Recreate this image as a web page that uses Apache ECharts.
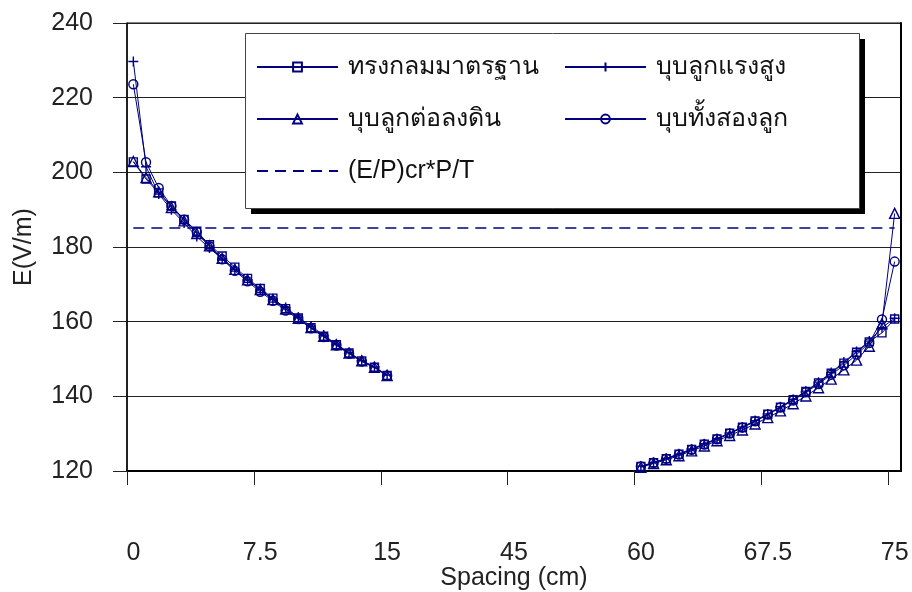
<!DOCTYPE html>
<html>
<head>
<meta charset="utf-8">
<script src="https://cdn.jsdelivr.net/npm/echarts@6/dist/echarts.min.js"></script>
<style>
  html, body { margin: 0; padding: 0; background: #fff; }
  #chart { width: 912px; height: 592px; }
</style>
</head>
<body>
<div id="chart"></div>
<script>
// Spacing categories (cm): measured near range, unlabelled gap slots, far range
const nearSpacing = ['0','0.75','1.5','2.25','3','3.75','4.5','5.25','6','6.75','7.5',
  '8.25','9','9.75','10.5','11.25','12','12.75','13.5','14.25','15'];
const gapSpacing = ['','','','','','','','','','45','','','','','','','','',''];
const farSpacing = ['60','60.75','61.5','62.25','63','63.75','64.5','65.25','66','66.75','67.5',
  '68.25','69','69.75','70.5','71.25','72','72.75','73.5','74.25','75'];
const categories = nearSpacing.concat(gapSpacing, farSpacing);
const labelEvery = 10;

// Electric field E (V/m) for each electrode condition
const seriesNames = ['ทรงกลมมาตรฐาน', 'บุบลูกแรงสูง', 'บุบลูกต่อลงดิน', 'บุบทั้งสองลูก'];
const criticalName = '(E/P)cr*P/T';

const standardNear = [202.8,198.2,194.5,191.0,187.4,184.2,180.6,177.6,174.6,171.6,168.9,
  166.3,163.5,161.0,158.4,156.1,153.8,151.6,149.5,147.8,145.6];
const standardFar = [121.2,122.2,123.3,124.5,125.8,127.2,128.6,130.1,131.7,133.4,135.2,
  137.1,139.1,141.3,143.6,146.2,148.9,151.8,154.6,157.0,160.7];

const hvDentNear = [229.7,201.5,194.2,190.0,186.4,182.8,179.7,176.8,174.0,171.2,168.6,
  166.0,163.8,161.2,158.8,156.4,154.0,151.7,149.6,147.9,145.7];
const hvDentFar = [121.3,122.3,123.4,124.6,125.9,127.3,128.7,130.2,131.8,133.5,135.3,
  137.2,139.2,141.4,143.8,146.4,149.2,152.0,154.8,158.4,160.9];

const groundDentNear = [202.9,198.6,194.8,190.6,187.0,183.6,180.3,177.0,174.0,171.2,168.6,
  165.9,163.4,160.9,158.4,156.1,153.8,151.6,149.5,147.8,145.6];
const groundDentFar = [121.0,122.0,123.0,124.1,125.4,126.7,128.1,129.5,131.0,132.6,134.3,
  136.1,138.0,140.1,142.3,144.6,147.1,149.7,153.4,159.4,189.0];

const bothDentNear = [223.6,202.7,195.8,191.0,187.3,184.0,180.2,176.7,173.6,170.8,168.0,
  165.6,163.0,160.7,158.2,155.9,153.6,151.4,149.3,147.7,145.5];
const bothDentFar = [121.2,122.2,123.3,124.4,125.7,127.1,128.5,130.0,131.6,133.3,135.1,
  137.0,138.9,141.1,143.3,145.8,148.3,151.2,154.3,160.6,176.1];

const criticalField = 185.1;
const criticalSpan = ['0', '75'];

const yTicks = { min: 120, max: 240, step: 20 };

// ---------------------------------------------------------------------------
const navy = '#000080';
const fontFamily = '"Liberation Sans", Arial, "Noto Sans", "DejaVu Sans", sans-serif';
const fontSize = 25;

function pairs(labels, values) {
  return labels.map((lab, i) => [categories.indexOf(lab), values[i]]);
}

const plusPath = 'path://M5,0L5,10M0,5L10,5';
const markers = [
  { symbol: 'rect', size: 8 },
  { symbol: plusPath, size: 10 },
  { symbol: 'triangle', size: 10 },
  { symbol: 'circle', size: 9 }
];
const nearData = [standardNear, hvDentNear, groundDentNear, bothDentNear];
const farData = [standardFar, hvDentFar, groundDentFar, bothDentFar];

const series = [];
seriesNames.forEach((name, k) => {
  [pairs(nearSpacing, nearData[k]), pairs(farSpacing, farData[k])].forEach(data => {
    series.push({
      type: 'line',
      name: name,
      data: data,
      symbol: markers[k].symbol,
      symbolSize: markers[k].size,
      showAllSymbol: true,
      animation: false,
      lineStyle: { color: navy, width: 1 },
      itemStyle: { color: 'rgba(0,0,0,0)', borderColor: navy, borderWidth: 1.4 },
      emphasis: { disabled: true },
      z: 3 + k
    });
  });
});
series.push({
  type: 'line',
  name: criticalName,
  data: criticalSpan.map(lab => [categories.indexOf(lab), criticalField]),
  symbol: 'circle',
  showSymbol: false,
  animation: false,
  lineStyle: { color: navy, width: 1.4, type: [11, 7] },
  itemStyle: { color: navy, opacity: 0 },
  emphasis: { disabled: true },
  z: 2
});

const tickValues = [];
const labelValues = [];
for (let i = 0; i < categories.length; i += labelEvery) {
  labelValues.push(i);
  tickValues.push(i - 0.5);
}

function legendAt(name, left, centerY) {
  return {
    data: [name],
    left: left,
    top: centerY - 15,
    padding: 0,
    itemWidth: 81,
    itemHeight: 11,
    selectedMode: false,
    z: 10,
    textStyle: {
      fontFamily: fontFamily, fontSize: fontSize, color: '#111',
      lineHeight: 30, padding: [0, 0, 0, 5]
    }
  };
}

const chart = echarts.init(document.getElementById('chart'), null, { renderer: 'canvas' });
chart.setOption({
  backgroundColor: '#fff',
  animation: false,
  grid: {
    left: 127, right: 11, top: 23, bottom: 121,
    containLabel: false,
    outerBoundsMode: 'none',
    show: true, borderColor: '#000', borderWidth: 1
  },
  legend: [
    legendAt(seriesNames[0], 256, 67),
    legendAt(seriesNames[1], 564, 67),
    legendAt(seriesNames[2], 256, 119),
    legendAt(seriesNames[3], 564, 119),
    legendAt(criticalName, 256, 171)
  ],
  graphic: [
    { type: 'rect', z: 5, shape: { x: 251, y: 39, width: 614, height: 175 },
      style: { fill: '#000' } },
    { type: 'rect', z: 6, shape: { x: 245.5, y: 33.5, width: 614, height: 175 },
      style: { fill: '#fff', stroke: '#444', lineWidth: 1 } }
  ],
  xAxis: {
    type: 'value',
    min: -0.5,
    max: categories.length - 0.5,
    name: 'Spacing (cm)',
    nameLocation: 'middle',
    nameGap: 95,
    nameMoveOverlap: false,
    nameTextStyle: { fontFamily: fontFamily, fontSize: fontSize, color: '#222' },
    axisLine: { show: true, onZero: false, lineStyle: { color: '#000', width: 2 } },
    axisTick: { show: true, length: 14, customValues: tickValues, lineStyle: { color: '#222', width: 1 } },
    axisLabel: {
      customValues: labelValues,
      formatter: v => categories[Math.round(v)],
      margin: 70,
      fontFamily: fontFamily, fontSize: fontSize, color: '#222'
    },
    splitLine: { show: false }
  },
  yAxis: [{
    type: 'value',
    min: yTicks.min, max: yTicks.max, interval: yTicks.step,
    name: 'E(V/m)',
    nameLocation: 'middle',
    nameGap: 90,
    nameTextStyle: { fontFamily: fontFamily, fontSize: fontSize, color: '#222' },
    axisLine: { show: true, onZero: false, lineStyle: { color: '#000', width: 1.5 } },
    axisTick: { show: true, length: 14, lineStyle: { color: '#222', width: 1 } },
    axisLabel: { margin: 34, fontFamily: fontFamily, fontSize: fontSize, color: '#222' },
    splitLine: { show: true, lineStyle: { color: '#222', width: 1 } }
  }, {
    type: 'value',
    position: 'right',
    min: yTicks.min, max: yTicks.max, interval: yTicks.step,
    axisLine: { show: true, onZero: false, lineStyle: { color: '#000', width: 2 } },
    axisTick: { show: false },
    axisLabel: { show: false },
    splitLine: { show: false }
  }],
  series: series
});
</script>
</body>
</html>
